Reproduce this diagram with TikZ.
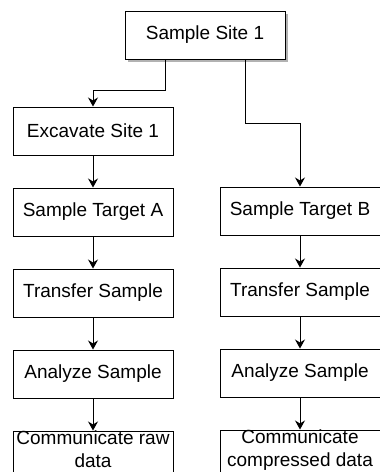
\documentclass[tikz,border=0pt]{standalone}
\usepackage{fontspec}
\setmainfont{Liberation Sans}
\usetikzlibrary{positioning, arrows.meta, shadows}

\begin{document}
\begin{tikzpicture}[x=1pt, y=1pt, >={Stealth[length=9pt, width=10pt, inset=3pt]},
    box/.style={draw, line width=1pt, fill=white, minimum width=160pt, minimum height=48pt,
        inner sep=0pt, align=center, font=\fontsize{19}{22.5}\selectfont},
    node distance=32pt]
    \useasboundingbox (0,0) rectangle (380,-472);
    \node[box, drop shadow={shadow xshift=3pt, shadow yshift=-3pt, fill=gray!60, opacity=1}] (site) at (205,-35) {Sample Site 1};
    \node[box] (dig) at (93,-131) {Excavate Site 1};
    \node[box, below=of dig] (tgtA) {Sample Target A};
    \node[box, below=of tgtA] (moveA) {Transfer Sample};
    \node[box, below=of moveA] (testA) {Analyze Sample};
    \node[box, below=of testA] (sendA) {Communicate raw\\data\vphantom{Xg}\\[-8pt]};
    \node[box] (tgtB) at (300,-211) {Sample Target B};
    \node[box, below=of tgtB] (moveB) {Transfer Sample};
    \node[box, below=of moveB] (testB) {Analyze Sample};
    \node[box, below=of testB] (sendB) {Communicate\\compressed data\\[-8pt]};
    % two branches out of the site
    \draw[->, line width=1pt] ([xshift=-40pt]site.south) -- ++(0,-31) -| (dig.north);
    \draw[->, line width=1pt] ([xshift=40pt]site.south) -- ++(0,-64) -| (tgtB.north);
    \draw[->, line width=1pt] (dig) -- (tgtA);
    \draw[->, line width=1pt] (tgtA) -- (moveA);
    \draw[->, line width=1pt] (moveA) -- (testA);
    \draw[->, line width=1pt] (testA) -- (sendA);
    \draw[->, line width=1pt] (tgtB) -- (moveB);
    \draw[->, line width=1pt] (moveB) -- (testB);
    \draw[->, line width=1pt] (testB) -- (sendB);
\end{tikzpicture}
\end{document}
